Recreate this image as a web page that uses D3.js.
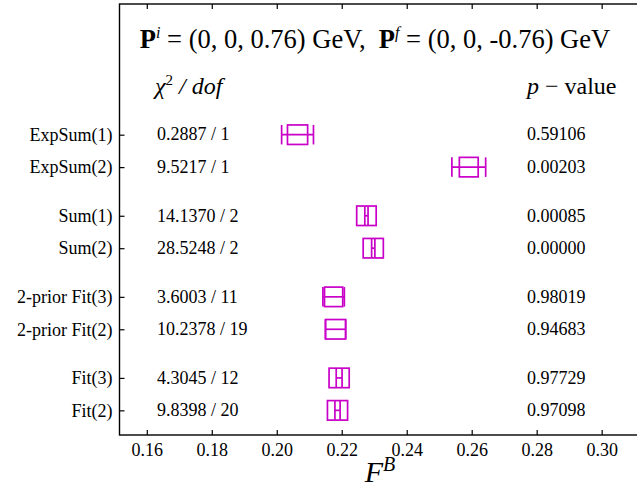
<!DOCTYPE html>
<html>
<head>
<meta charset="utf-8">
<script src="https://cdn.jsdelivr.net/npm/d3@7"></script>
<style>
  body { margin: 0; background: #fff; }
  svg text { font-family: "Liberation Serif", "Times New Roman", serif; fill: #000; }
</style>
</head>
<body>
<svg id="chart" width="637" height="489"></svg>
<script>
// rows, from top to bottom
var categories = ["ExpSum(1)", "ExpSum(2)", "Sum(1)", "Sum(2)", "2-prior Fit(3)", "2-prior Fit(2)", "Fit(3)", "Fit(2)"];
var slots = [8.5, 7.5, 6, 5, 3.5, 2.5, 1, 0];
var centers = [0.2064, 0.2591, 0.2276, 0.2297, 0.2175, 0.2181, 0.2192, 0.2187];
var boxErr = [0.0031, 0.0029, 0.0030, 0.0031, 0.0028, 0.0031, 0.0031, 0.0031];
var barErr = [0.0049, 0.0052, 0.0005, 0.0005, 0.0033, 0.0031, 0.0009, 0.0008];
var chi2 = ["0.2887 / 1", "9.5217 / 1", "14.1370 / 2", "28.5248 / 2", "3.6003 / 11", "10.2378 / 19", "4.3045 / 12", "9.8398 / 20"];
var pvals = ["0.59106", "0.00203", "0.00085", "0.00000", "0.98019", "0.94683", "0.97729", "0.97098"];
var xTicks = [0.16, 0.18, 0.20, 0.22, 0.24, 0.26, 0.28, 0.30];

var svg = d3.select("#chart");
var mLeft = 119.5, mRight = 640, mTop = 4, mBottom = 435;
var col = "#c800c8";
var boxH = 19.5;

var x = d3.scaleLinear().domain([0.1516, 0.3118]).range([mLeft, mRight]);
var y = d3.scaleLinear().domain([-0.76, 12.53]).range([mBottom, mTop]);

//frame
svg.append("rect")
  .attr("x", mLeft).attr("y", mTop)
  .attr("width", mRight - mLeft).attr("height", mBottom - mTop)
  .attr("fill", "none").attr("stroke", "#000").attr("stroke-width", 1.4);

//axes, ticks pointing inward
svg.append("g")
  .attr("transform", "translate(0," + mBottom + ")")
  .call(d3.axisBottom(x).tickValues(xTicks).tickFormat(d3.format(".2f")).tickSizeInner(-5).tickSizeOuter(0).tickPadding(8));
svg.append("g")
  .attr("transform", "translate(0," + mTop + ")")
  .call(d3.axisTop(x).tickValues(xTicks).tickFormat("").tickSizeInner(-5).tickSizeOuter(0));
svg.append("g")
  .attr("transform", "translate(" + mLeft + ",0)")
  .call(d3.axisLeft(y).tickValues(slots).tickFormat(function(d, i){ return categories[i] }).tickSizeInner(-5).tickSizeOuter(0).tickPadding(7));

svg.selectAll(".domain").remove();
svg.selectAll(".tick line").attr("stroke", "#000").attr("stroke-width", 1.2);
svg.selectAll(".tick text").attr("font-size", 18);

//marks
var marks = svg.selectAll("g.mark")
  .data(centers)
  .enter().append("g")
    .attr("class", "mark")
    .attr("fill", "none")
    .attr("stroke", col)
    .attr("stroke-width", 1.7);

marks.append("rect")
  .attr("x", function(d, i){ return x(d - boxErr[i]) })
  .attr("y", function(d, i){ return y(slots[i]) - boxH / 2 })
  .attr("width", function(d, i){ return x(d + boxErr[i]) - x(d - boxErr[i]) })
  .attr("height", boxH);

marks.append("line")
  .attr("x1", function(d, i){ return x(d - barErr[i]) })
  .attr("x2", function(d, i){ return x(d + barErr[i]) })
  .attr("y1", function(d, i){ return y(slots[i]) })
  .attr("y2", function(d, i){ return y(slots[i]) });

[-1, 1].forEach(function(s){
  marks.append("line")
    .attr("x1", function(d, i){ return x(d + s * barErr[i]) })
    .attr("x2", function(d, i){ return x(d + s * barErr[i]) })
    .attr("y1", function(d, i){ return y(slots[i]) - boxH / 2 })
    .attr("y2", function(d, i){ return y(slots[i]) + boxH / 2 });
});

//text columns
svg.selectAll("text.chi")
  .data(chi2)
  .enter().append("text")
    .attr("class", "chi")
    .attr("x", 157)
    .attr("y", function(d, i){ return y(slots[i]) })
    .attr("dy", "0.32em")
    .attr("font-size", 18)
    .text(function(d){ return d });

svg.selectAll("text.pv")
  .data(pvals)
  .enter().append("text")
    .attr("class", "pv")
    .attr("x", 527)
    .attr("y", function(d, i){ return y(slots[i]) })
    .attr("dy", "0.32em")
    .attr("font-size", 18)
    .text(function(d){ return d });

//header
var head = svg.append("text").attr("x", 375).attr("y", 48).attr("font-size", 26.5).attr("text-anchor", "middle");
head.append("tspan").attr("font-weight", "bold").text("P");
head.append("tspan").attr("font-style", "italic").attr("font-size", 16).attr("dy", -10).text("i");
head.append("tspan").attr("dy", 10).text(" = (0, 0, 0.76) GeV,\u00a0\u00a0");
head.append("tspan").attr("font-weight", "bold").text("P");
head.append("tspan").attr("font-style", "italic").attr("font-size", 16).attr("dy", -10).text("f");
head.append("tspan").attr("dy", 10).text(" = (0, 0, -0.76) GeV");

var chiHead = svg.append("text").attr("x", 155).attr("y", 94).attr("font-size", 24).attr("font-style", "italic");
chiHead.append("tspan").text("\u03c7");
chiHead.append("tspan").attr("font-size", 15).attr("dy", -9).attr("font-style", "normal").text("2");
chiHead.append("tspan").attr("dy", 9).text(" / dof");

var pHead = svg.append("text").attr("x", 527).attr("y", 94).attr("font-size", 24);
pHead.append("tspan").attr("font-style", "italic").text("p");
pHead.append("tspan").text(" \u2212 value");

//x label
var xl = svg.append("text").attr("x", 380).attr("y", 482).attr("font-size", 30).attr("font-style", "italic").attr("text-anchor", "middle");
xl.append("tspan").text("F");
xl.append("tspan").attr("font-size", 20).attr("dy", -11).text("B");
</script>
</body>
</html>
